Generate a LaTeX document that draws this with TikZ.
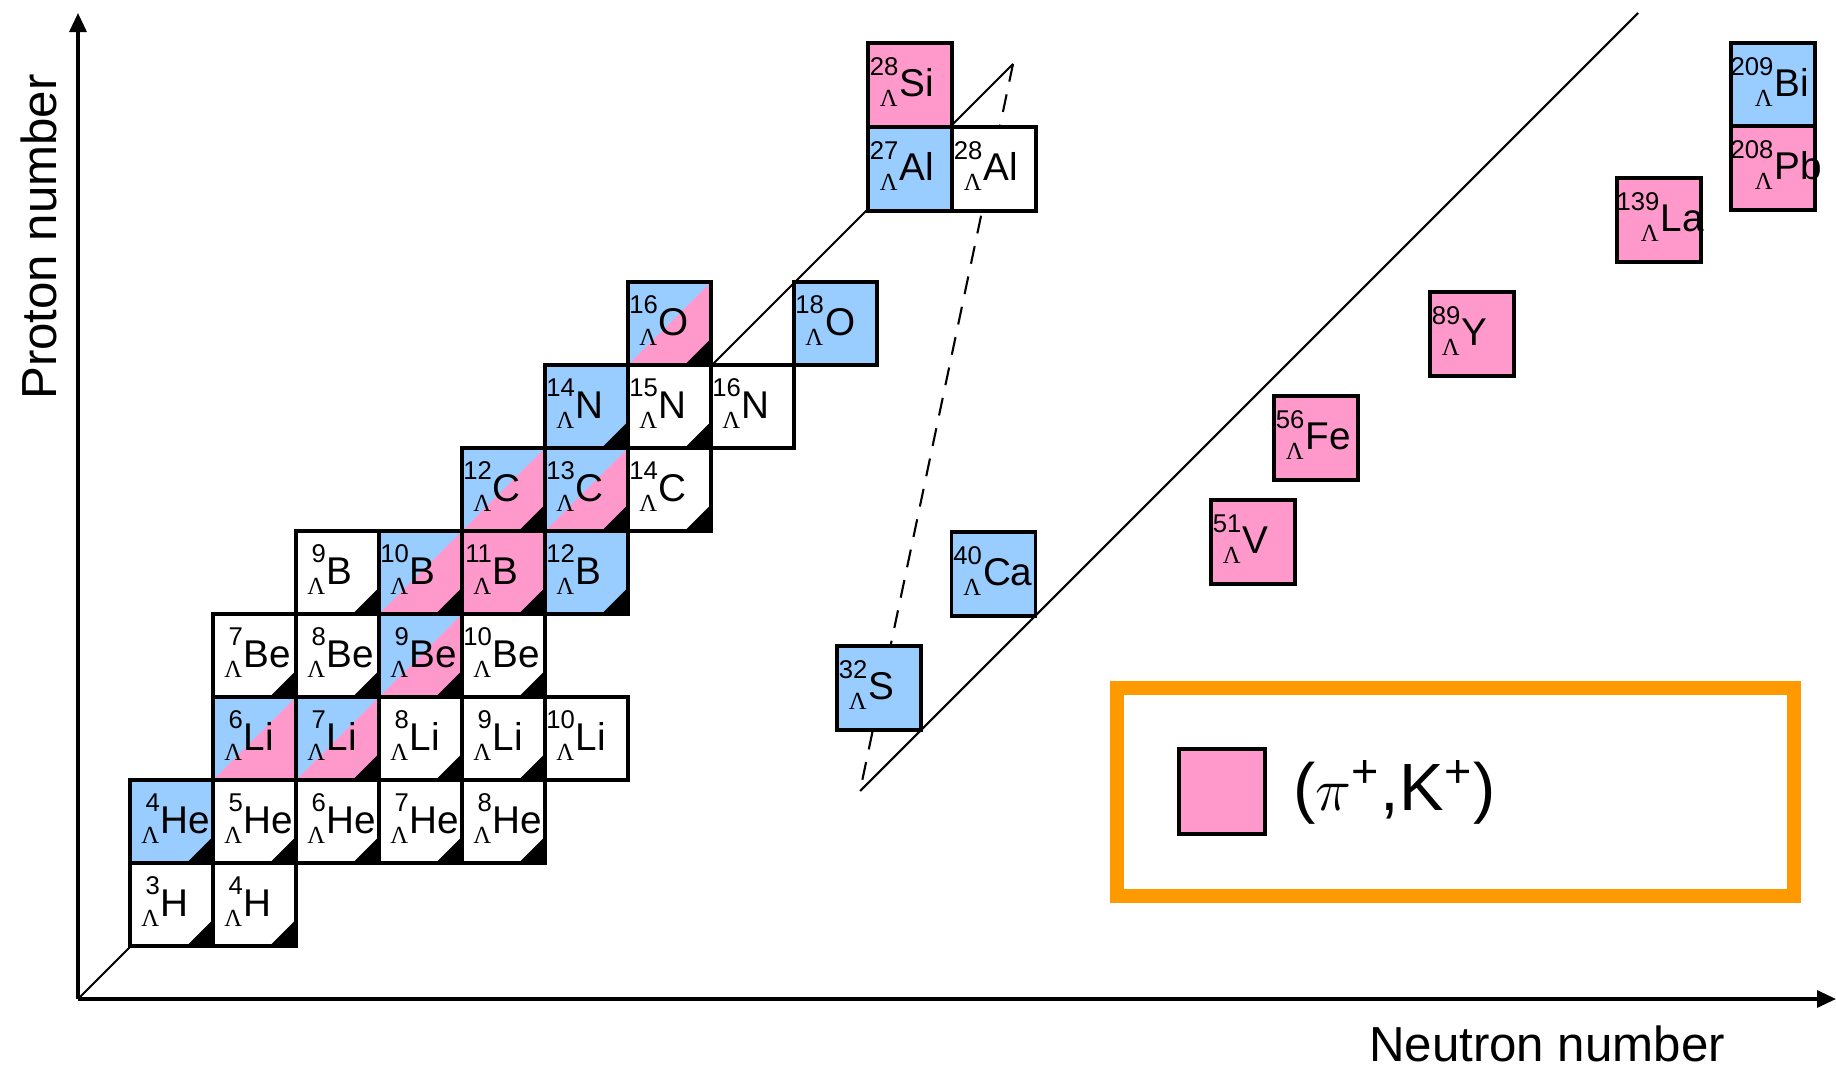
\documentclass[tikz,border=0pt]{standalone}
\usepackage{fontspec}
\setmainfont{Liberation Sans}
\newfontfamily\lamfont{Liberation Serif}
\usetikzlibrary{arrows.meta}

\definecolor{hypblue}{RGB}{153,204,255}
\definecolor{hyppink}{RGB}{255,153,204}
\definecolor{hyporange}{RGB}{255,153,0}

% mass number and Lambda right-aligned in front of the element symbol
\newcommand{\hypnuc}[3][0.31cm]{%
  \makebox[0.83cm][l]{\hspace*{#1}%
    \llap{\raisebox{0.21cm}{\fontsize{7.3}{8}\selectfont #2}\kern0.3pt}%
    \llap{\raisebox{-0.10cm}{\fontsize{7}{8}\selectfont\lamfont Λ}\kern0.5pt}%
    \fontsize{11}{13}\selectfont #3}}

\begin{document}
\begin{tikzpicture}[x=0.01cm, y=-0.01cm,
    cell/.style={rectangle, draw, line width=1pt, minimum size=0.83cm, inner sep=0pt, text height=0.53cm, text depth=0.30cm},
    wt/.style={fill=white},
    bl/.style={fill=hypblue},
    pk/.style={fill=hyppink},
    sp/.style={fill=hypblue, path picture={\fill[hyppink] (path picture bounding box.south west) -- (path picture bounding box.north east) -- (path picture bounding box.south east) -- cycle;}},
    big/.style={cell, minimum size=0.84cm, line width=1.1pt},
    axis/.style={line width=0.9pt, -{Triangle[length=0.19cm, width=0.17cm]}},
    guide/.style={line width=0.6pt},
    axislabel/.style={font=\fontsize{14}{16}\selectfont}
]
\useasboundingbox (0,0) rectangle (1836,1067);

% Axes
\coordinate (O) at (78,999);
\coordinate (ytip) at (78,13);
\coordinate (xtip) at (1836,999);
\draw[axis] (O) -- (ytip);
\draw[axis] (O) -- (xtip);
\node[axislabel, rotate=90, anchor=base] (zlab) at (56,237) {Proton number};
\node[axislabel, anchor=base] (nlab) at (1547,1061) {Neutron number};

% Guide line with the axis break (dashed)
\coordinate (brkA) at (1013,64);
\coordinate (brkB) at (860,791);
\coordinate (brkC) at (1638,13);
\draw[guide] (O) -- (brkA);
\draw[guide, dashed, dash pattern=on 0.18cm off 0.13cm] (brkA) -- (brkB);
\draw[guide] (brkB) -- (brkC);

% Light hypernuclei: name/N/Z/A/symbol/fill/corner
\foreach \nm/\nn/\zz/\mass/\el/\kind/\crn in {
    H3/2/1/3/H/wt/1, H4/3/1/4/H/wt/1,
    He4/2/2/4/He/bl/1, He5/3/2/5/He/wt/1, He6/4/2/6/He/wt/1, He7/5/2/7/He/wt/1, He8/6/2/8/He/wt/1,
    Li6/3/3/6/Li/sp/0, Li7/4/3/7/Li/sp/1, Li8/5/3/8/Li/wt/1, Li9/6/3/9/Li/wt/1, Li10/7/3/10/Li/wt/0,
    Be7/3/4/7/Be/wt/1, Be8/4/4/8/Be/wt/1, Be9/5/4/9/Be/sp/1, Be10/6/4/10/Be/wt/1,
    B9/4/5/9/B/wt/1, B10/5/5/10/B/sp/1, B11/6/5/11/B/pk/1, B12/7/5/12/B/bl/1,
    C12/6/6/12/C/sp/1, C13/7/6/13/C/sp/1, C14/8/6/14/C/wt/1,
    N14/7/7/14/N/bl/1, N15/8/7/15/N/wt/1, N16/9/7/16/N/wt/0,
    O16/8/8/16/O/sp/1, O18/10/8/18/O/bl/0}{
  \node[cell, \kind] (\nm) at ({171.5+(\nn-2)*83},{987.5-\zz*83}) {\hypnuc{\mass}{\el}};
  \ifnum\crn=1
    \fill ([xshift=-0.3cm]\nm.south east) -- (\nm.south east) -- ([yshift=0.3cm]\nm.south east) -- cycle;
  \fi
}

% Heavier hypernuclei
\node[big, pk] (Si28) at (910,85) {\hypnuc{28}{Si}};
\node[big, bl] (Al27) at (910,169) {\hypnuc{27}{Al}};
\node[big, wt] (Al28) at (994,169) {\hypnuc{28}{Al}};
\node[big, bl] (S32) at (879,688) {\hypnuc{32}{S}};
\node[big, bl] (Ca40) at (993.5,574) {\hypnuc{40}{Ca}};
\node[big, pk] (V51) at (1253,542) {\hypnuc{51}{V}};
\node[big, pk] (Fe56) at (1316,438) {\hypnuc{56}{Fe}};
\node[big, pk] (Y89) at (1472,334) {\hypnuc{89}{Y}};
\node[big, pk] (La139) at (1659,220) {\hypnuc[0.43cm]{139}{La}};
\node[big, bl] (Bi209) at (1773,85) {\hypnuc[0.43cm]{209}{Bi}};
\node[big, pk] (Pb208) at (1773,168) {\hypnuc[0.43cm]{208}{Pb}};

% Legend
\node[draw=hyporange, line width=0.14cm, minimum width=6.76cm, minimum height=2.08cm] (legend) at (1455.5,792) {};
\node[draw, fill=hyppink, line width=1pt, minimum width=0.86cm, minimum height=0.85cm, inner sep=0pt] (key) at (1222,791.5) {};
\node[anchor=base west, inner sep=0pt, font=\fontsize{19}{23}\selectfont] (keytxt) at (1293,810) {($\pi$\textsuperscript{+},K\textsuperscript{+})};

\end{tikzpicture}
\end{document}
